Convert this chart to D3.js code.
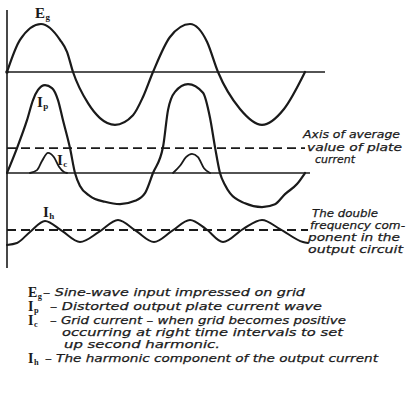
<!DOCTYPE html>
<html>
<head>
<meta charset="utf-8">
<script src="https://cdn.jsdelivr.net/npm/d3@7"></script>
<style>
  html, body { margin: 0; padding: 0; background: #fff; }
  svg { display: block; }
  .hand { font-family: "DejaVu Sans", sans-serif; font-style: italic; font-size: 11px; fill: #1a1a1a; stroke: #1a1a1a; stroke-width: 0.25px; }
  .sym { font-family: "Liberation Serif", serif; font-weight: bold; fill: #1a1a1a; }
</style>
</head>
<body>
<script>
// Time samples (one full grid-voltage cycle is about 146 units) and trace values
// in amplitude units, each trace measured from its own zero line.
const egTime  = [0, 13, 34, 53, 60, 66, 81, 93, 108, 126, 136, 146, 163, 183, 200, 211, 233, 255, 277, 298];
const egValue = [0, 0.67, 1.0, 0.67, 0.42, 0, -0.65, -0.96, -1.1, -0.9, -0.52, 0, 0.73, 1.0, 0.63, 0, -0.77, -1.1, -0.77, 0];

const ipTime  = [0, 10, 20, 26, 31, 38, 45, 51, 56, 63, 68, 73, 83, 98, 113, 128, 138, 146, 156, 161, 168, 181, 196, 203, 208, 213, 218, 223, 238, 255, 268, 278, 290, 298];
const ipValue = [0, 0.52, 1.1, 1.52, 1.73, 1.83, 1.77, 1.52, 1.1, 0.52, 0, -0.27, -0.48, -0.6, -0.65, -0.58, -0.42, 0, 0.54, 1.31, 1.69, 1.85, 1.67, 1.15, 0.54, 0, -0.25, -0.42, -0.63, -0.71, -0.65, -0.44, -0.23, 0];
const ipAverage = 0.52;

const icTime1  = [23, 30, 35, 41, 47, 52, 57, 60];
const icValue1 = [0, 0.06, 0.25, 0.42, 0.33, 0.13, 0.02, 0];
const icTime2  = [166, 173, 179, 185, 191, 197, 203];
const icValue2 = [0, 0.15, 0.33, 0.4, 0.33, 0.1, 0];

const ihTime  = [0, 10, 23, 38, 55, 73, 92, 111, 129, 147, 165, 183, 199, 216, 236, 255, 273, 296, 301];
const ihValue = [-0.31, -0.27, -0.04, 0.19, -0.02, -0.25, -0.04, 0.21, -0.02, -0.25, -0.02, 0.21, 0.02, -0.25, 0.02, 0.21, 0.02, -0.25, -0.27];

// Extents of the reference lines, in time units
const egAxisEnd = 318, ipAxisEnd = 303, ipAvgEnd = 298, ihAxisEnd = 301;

const legendLines = [
  { sym: "E", sub: "g", text: "– Sine-wave input impressed on grid" },
  { sym: "I", sub: "p", text: "– Distorted output plate current wave" },
  { sym: "I", sub: "c", text: "– Grid current – when grid becomes positive" },
  { sym: null, sub: null, text: "occurring at right time intervals to set" },
  { sym: null, sub: null, text: "up second harmonic." },
  { sym: "I", sub: "h", text: "– The harmonic component of the output current" }
];
const avgNote = ["Axis of average", "value of plate", "current"];
const harmonicNote = ["The double", "frequency com-", "ponent in the", "output circuit"];

const W = 407, H = 394;
const ink = "#1a1a1a";

const svg = d3.select("body").append("svg").attr("width", W).attr("height", H);

const x = d3.scaleLinear().domain([0, 300]).range([7, 307]);
// each trace shares the same amplitude unit but sits on its own zero line
const unit = 48;
const traceScale = base => d3.scaleLinear().domain([0, 1]).range([base, base - unit]);
const yEg = traceScale(72), yIp = traceScale(173), yIh = traceScale(230);

const curve = d3.curveMonotoneX;
const drawTrace = (times, values, y, width) => {
  const pts = times.map((t, i) => [t, values[i]]);
  svg.append("path")
    .attr("d", d3.line().x(d => x(d[0])).y(d => y(d[1])).curve(curve)(pts))
    .attr("fill", "none").attr("stroke", ink)
    .attr("stroke-width", width).attr("stroke-linejoin", "round").attr("stroke-linecap", "round");
};
const hLine = (y, v, t1, dashed) => {
  svg.append("line")
    .attr("x1", x(0)).attr("x2", x(t1)).attr("y1", y(v)).attr("y2", y(v))
    .attr("stroke", ink).attr("stroke-width", dashed ? 1.8 : 1.4)
    .attr("stroke-dasharray", dashed ? "9,5" : null);
};

// time axis (vertical rule on the left)
svg.append("line").attr("x1", x(0)).attr("x2", x(0))
  .attr("y1", yEg(1.29)).attr("y2", yIh(-0.79))
  .attr("stroke", ink).attr("stroke-width", 1.6);

// zero lines and average lines
hLine(yEg, 0, egAxisEnd, false);
hLine(yIp, 0, ipAxisEnd, false);
hLine(yIp, ipAverage, ipAvgEnd, true);
hLine(yIh, 0, ihAxisEnd, true);

// waveforms
drawTrace(egTime, egValue, yEg, 2.2);
svg.append("circle").attr("cx", x(0)).attr("cy", yEg(0)).attr("r", 1.8).attr("fill", ink);
drawTrace(ipTime, ipValue, yIp, 2.2);
drawTrace(icTime1, icValue1, yIp, 1.8);
drawTrace(icTime2, icValue2, yIp, 1.8);
drawTrace(ihTime, ihValue, yIh, 2.0);

// trace symbols with subscripts
const symbol = (sx, sy, s, sub, size) => {
  const t = svg.append("text").attr("class", "sym").attr("x", sx).attr("y", sy)
    .style("font-size", size + "px").text(s);
  t.append("tspan").attr("dx", 0.5).attr("dy", 2).style("font-size", (size * 0.6) + "px").text(sub);
};
symbol(35, 18, "E", "g", 15);
symbol(37, 107, "I", "p", 15);
symbol(57, 165, "I", "c", 15);
symbol(43, 217, "I", "h", 15);

// side notes
const note = (lines, xs, ys, widths) => {
  lines.forEach((s, i) => {
    svg.append("text").attr("class", "hand")
      .attr("x", xs[i]).attr("y", ys[i])
      .attr("textLength", widths[i]).attr("lengthAdjust", "spacingAndGlyphs")
      .text(s);
  });
};
note(avgNote, [303, 307, 315], [138, 151, 163], [97, 95, 40]);
note(harmonicNote, [312, 310, 308, 308], [217, 229, 241, 253], [66, 95, 92, 95]);

// legend
const legendRows = [
  { y: 296, sx: 28, tx: 43, w: 262 },
  { y: 310, sx: 28, tx: 50, w: 272 },
  { y: 324, sx: 28, tx: 50, w: 296 },
  { y: 336, sx: 0, tx: 62, w: 281 },
  { y: 348, sx: 0, tx: 64, w: 156 },
  { y: 362, sx: 28, tx: 45, w: 333 }
];
legendLines.forEach((d, i) => {
  const r = legendRows[i];
  if (d.sym) symbol(r.sx, r.y + 1, d.sym, d.sub, 14);
  svg.append("text").attr("class", "hand")
    .attr("x", r.tx).attr("y", r.y)
    .attr("textLength", r.w).attr("lengthAdjust", "spacingAndGlyphs")
    .text(d.text);
});
</script>
</body>
</html>
